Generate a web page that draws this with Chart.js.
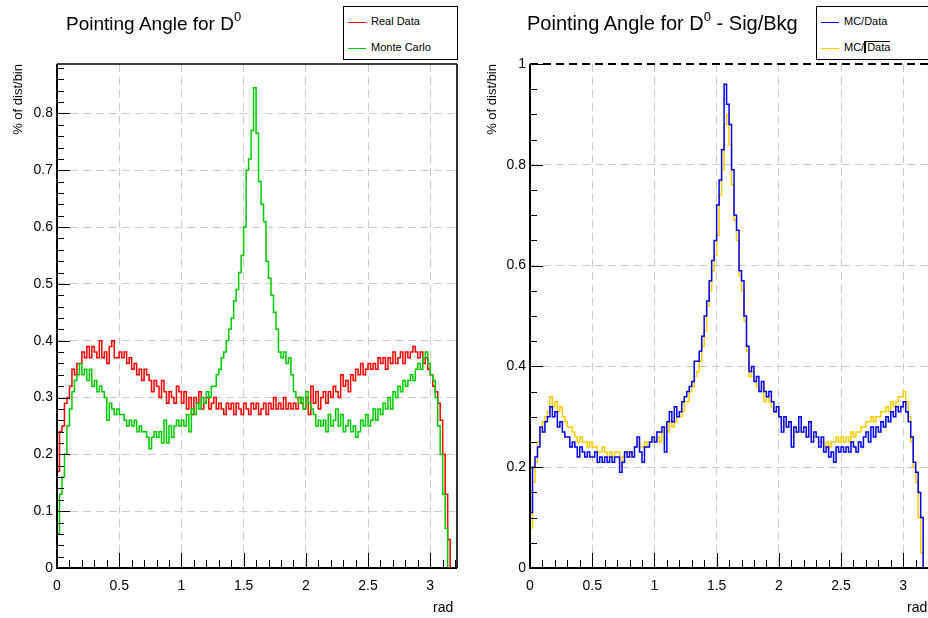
<!DOCTYPE html>
<html>
<head>
<meta charset="utf-8">
<title>Pointing Angle for D0</title>
<script src="https://cdn.jsdelivr.net/npm/chart.js@4.4.0/dist/chart.umd.min.js"></script>
<style>
  html, body { margin: 0; padding: 0; background: #fff; }
  body { width: 928px; height: 618px; overflow: hidden; position: relative; font-family: "Liberation Sans", Arial, sans-serif; color: #000; }
  canvas { position: absolute; top: 0; }
  #cLeft { left: 0; }
  #cRight { left: 464px; }
  .title { position: absolute; top: 13px; font-size: 19px; line-height: 22px; white-space: nowrap; }
  .title sup { font-size: 13px; position: relative; top: -9px; vertical-align: baseline; line-height: 0; }
  .legend { position: absolute; top: 6px; width: 113px; height: 52px; border: 1px solid #000; background: #fff; font-size: 11px; }
  .legend .row { position: absolute; left: 4px; height: 14px; line-height: 14px; white-space: nowrap; }
  .legend .swatch { display: inline-block; width: 18px; height: 0; border-top: 1.5px solid; vertical-align: middle; margin-right: 5px; }
  .sq { display: inline-block; border-left: 2px solid #000; border-top: 1px solid #000; padding-left: 1px; line-height: 11px; }
  .ytitle { position: absolute; width: 150px; height: 14px; line-height: 14px; font-size: 13px; text-align: right; white-space: nowrap; transform-origin: left top; transform: rotate(-90deg); }
  .xtitle { position: absolute; top: 599px; font-size: 14px; line-height: 16px; }
</style>
</head>
<body>
<canvas id="cLeft" width="464" height="618"></canvas>
<canvas id="cRight" width="470" height="618"></canvas>

<div class="title" style="left:66px">Pointing Angle for D<sup>0</sup></div>
<div class="title" style="left:527px; top:12px; font-size:20px">Pointing Angle for D<sup>0</sup> - Sig/Bkg</div>

<div class="legend" style="left:343px">
  <div class="row" style="top:7px"><span class="swatch" style="border-color:#ff0000"></span>Real Data</div>
  <div class="row" style="top:33px"><span class="swatch" style="border-color:#00cc00"></span>Monte Carlo</div>
</div>
<div class="legend" style="left:816px; width:140px">
  <div class="row" style="top:7px"><span class="swatch" style="border-color:#0000ff"></span>MC/Data</div>
  <div class="row" style="top:33px"><span class="swatch" style="border-color:#ffcc00"></span>MC/<span class="sq">Data</span></div>
</div>

<div class="ytitle" style="left:11px; top:214px">% of dist/bin</div>
<div class="ytitle" style="left:485px; top:214px">% of dist/bin</div>
<div class="xtitle" style="left:433px">rad</div>
<div class="xtitle" style="left:907px">rad</div>

<script>
// histogram binning: 160 bins of 0.02 rad starting at 0
const binWidth = 0.02;

const realData = [
  0.17, 0.24, 0.25, 0.29, 0.30, 0.32, 0.35, 0.34, 0.36, 0.36,
  0.38, 0.37, 0.39, 0.37, 0.39, 0.38, 0.37, 0.40, 0.37, 0.38,
  0.36, 0.39, 0.40, 0.37, 0.37, 0.38, 0.37, 0.38, 0.36, 0.37,
  0.35, 0.36, 0.34, 0.35, 0.33, 0.35, 0.34, 0.33, 0.31, 0.33,
  0.32, 0.30, 0.33, 0.31, 0.29, 0.31, 0.30, 0.29, 0.32, 0.31,
  0.29, 0.31, 0.28, 0.30, 0.27, 0.30, 0.29, 0.31, 0.28, 0.29,
  0.30, 0.28, 0.29, 0.30, 0.28, 0.29, 0.28, 0.27, 0.29, 0.28,
  0.29, 0.27, 0.29, 0.28, 0.27, 0.29, 0.28, 0.27, 0.29, 0.28,
  0.29, 0.27, 0.28, 0.29, 0.27, 0.29, 0.28, 0.30, 0.28, 0.29,
  0.28, 0.30, 0.28, 0.29, 0.28, 0.29, 0.28, 0.30, 0.29, 0.28,
  0.30, 0.27, 0.32, 0.29, 0.31, 0.28, 0.30, 0.31, 0.29, 0.31,
  0.30, 0.32, 0.31, 0.30, 0.34, 0.32, 0.33, 0.31, 0.34, 0.33,
  0.35, 0.34, 0.36, 0.34, 0.35, 0.36, 0.35, 0.36, 0.35, 0.37,
  0.36, 0.37, 0.35, 0.37, 0.36, 0.38, 0.36, 0.37, 0.38, 0.36,
  0.38, 0.37, 0.38, 0.39, 0.38, 0.37, 0.38, 0.36, 0.37, 0.35,
  0.34, 0.32, 0.31, 0.29, 0.26, 0.20, 0.13, 0.05, 0.00, 0.00
];

const monteCarlo = [
  0.06, 0.13, 0.16, 0.20, 0.25, 0.28, 0.31, 0.33, 0.34, 0.36,
  0.34, 0.35, 0.33, 0.35, 0.32, 0.33, 0.31, 0.32, 0.31, 0.30,
  0.26, 0.29, 0.28, 0.27, 0.28, 0.27, 0.27, 0.26, 0.25, 0.26,
  0.25, 0.26, 0.24, 0.25, 0.24, 0.24, 0.23, 0.21, 0.23, 0.24,
  0.23, 0.24, 0.22, 0.26, 0.22, 0.25, 0.23, 0.25, 0.26, 0.25,
  0.26, 0.25, 0.27, 0.24, 0.28, 0.27, 0.29, 0.28, 0.30, 0.29,
  0.31, 0.30, 0.32, 0.32, 0.34, 0.35, 0.37, 0.38, 0.40, 0.42,
  0.44, 0.47, 0.49, 0.52, 0.55, 0.60, 0.70, 0.72, 0.77, 0.845,
  0.765, 0.68, 0.64, 0.61, 0.54, 0.51, 0.48, 0.45, 0.42, 0.38,
  0.37, 0.38, 0.36, 0.37, 0.34, 0.31, 0.30, 0.29, 0.30, 0.28,
  0.31, 0.29, 0.28, 0.27, 0.25, 0.26, 0.25, 0.26, 0.24, 0.27,
  0.25, 0.26, 0.28, 0.25, 0.27, 0.24, 0.25, 0.26, 0.24, 0.25,
  0.23, 0.24, 0.26, 0.25, 0.27, 0.25, 0.26, 0.28, 0.26, 0.28,
  0.27, 0.29, 0.28, 0.30, 0.28, 0.31, 0.30, 0.32, 0.31, 0.33,
  0.32, 0.33, 0.34, 0.33, 0.35, 0.36, 0.35, 0.37, 0.38, 0.36,
  0.34, 0.33, 0.30, 0.25, 0.20, 0.13, 0.07, 0.00, 0.00, 0.00
];

const mcOverData = [
  0.11, 0.20, 0.22, 0.24, 0.28, 0.27, 0.29, 0.30, 0.32, 0.30,
  0.31, 0.28, 0.29, 0.27, 0.26, 0.26, 0.24, 0.25, 0.24, 0.22,
  0.24, 0.23, 0.22, 0.23, 0.22, 0.22, 0.23, 0.21, 0.22, 0.21,
  0.22, 0.21, 0.22, 0.21, 0.22, 0.22, 0.19, 0.21, 0.23, 0.22,
  0.23, 0.22, 0.24, 0.26, 0.23, 0.21, 0.24, 0.24, 0.25, 0.26,
  0.25, 0.27, 0.27, 0.28, 0.23, 0.29, 0.31, 0.29, 0.32, 0.30,
  0.31, 0.33, 0.34, 0.35, 0.36, 0.37, 0.41, 0.41, 0.43, 0.46,
  0.50, 0.53, 0.57, 0.61, 0.65, 0.72, 0.77, 0.83, 0.96, 0.92,
  0.88, 0.79, 0.70, 0.67, 0.59, 0.57, 0.50, 0.44, 0.39, 0.40,
  0.37, 0.38, 0.35, 0.37, 0.35, 0.34, 0.35, 0.33, 0.31, 0.32,
  0.30, 0.27, 0.30, 0.28, 0.29, 0.24, 0.28, 0.27, 0.30, 0.27,
  0.28, 0.26, 0.29, 0.25, 0.27, 0.26, 0.24, 0.26, 0.23, 0.24,
  0.22, 0.23, 0.21, 0.24, 0.23, 0.24, 0.23, 0.24, 0.23, 0.25,
  0.24, 0.23, 0.25, 0.24, 0.26, 0.27, 0.25, 0.28, 0.26, 0.28,
  0.27, 0.29, 0.28, 0.30, 0.29, 0.31, 0.30, 0.32, 0.31, 0.32,
  0.33, 0.31, 0.29, 0.26, 0.21, 0.19, 0.15, 0.10, 0.00, 0.00
];

const mcOverSqrtData = [
  0.08, 0.17, 0.21, 0.25, 0.27, 0.29, 0.30, 0.31, 0.34, 0.32,
  0.33, 0.31, 0.32, 0.30, 0.29, 0.28, 0.28, 0.27, 0.26, 0.25,
  0.26, 0.25, 0.25, 0.24, 0.25, 0.24, 0.24, 0.23, 0.23, 0.24,
  0.23, 0.22, 0.23, 0.22, 0.23, 0.23, 0.20, 0.22, 0.23, 0.23,
  0.22, 0.23, 0.24, 0.25, 0.24, 0.24, 0.25, 0.24, 0.25, 0.25,
  0.26, 0.26, 0.25, 0.27, 0.28, 0.27, 0.29, 0.28, 0.29, 0.30,
  0.30, 0.31, 0.33, 0.33, 0.35, 0.36, 0.38, 0.39, 0.41, 0.44,
  0.47, 0.52, 0.55, 0.59, 0.62, 0.66, 0.74, 0.79, 0.88, 0.90,
  0.84, 0.76, 0.69, 0.65, 0.58, 0.55, 0.49, 0.43, 0.38, 0.39,
  0.37, 0.36, 0.35, 0.36, 0.33, 0.34, 0.33, 0.32, 0.31, 0.31,
  0.30, 0.28, 0.29, 0.28, 0.28, 0.26, 0.27, 0.27, 0.28, 0.27,
  0.27, 0.26, 0.28, 0.26, 0.26, 0.26, 0.25, 0.25, 0.24, 0.25,
  0.24, 0.25, 0.25, 0.26, 0.25, 0.26, 0.25, 0.26, 0.25, 0.27,
  0.26, 0.27, 0.27, 0.28, 0.28, 0.29, 0.29, 0.30, 0.29, 0.30,
  0.30, 0.31, 0.31, 0.32, 0.31, 0.33, 0.32, 0.33, 0.34, 0.34,
  0.35, 0.33, 0.30, 0.25, 0.20, 0.17, 0.10, 0.03, 0.00, 0.00
];

// axis ranges (ROOT style frame: y max = 1.05 * peak on the left pad)
const xRange = [0, 3.215];
const yRangeLeft = [0, 0.887];
const yRangeRight = [0, 1];

// turn bin contents into step points: one point per low edge plus the closing edge
function histPoints(values) {
  const pts = values.map((v, i) => ({ x: i * binWidth, y: v }));
  pts.push({ x: values.length * binWidth, y: values[values.length - 1] });
  return pts;
}

function histDataset(values, color, order) {
  return {
    data: histPoints(values),
    borderColor: color,
    borderWidth: 1.5,
    pointRadius: 0,
    stepped: true,
    fill: false,
    order: order
  };
}

// frame + ticks drawn inside the pad, like ROOT does
const rootFrame = {
  id: 'rootFrame',
  afterDraw(chart, args, opts) {
    const { ctx, chartArea: a, scales: { x, y } } = chart;
    ctx.save();
    ctx.strokeStyle = '#000';
    ctx.lineWidth = 1;
    ctx.beginPath();
    for (let k = 0; k / 10 <= x.max + 1e-9; k++) {
      const px = Math.round(x.getPixelForValue(k / 10)) + 0.5;
      const len = k % 5 === 0 ? 15 : 8;
      ctx.moveTo(px, a.bottom);
      ctx.lineTo(px, a.bottom - len);
    }
    for (let k = 0; k * opts.yMinor <= y.max + 1e-9; k++) {
      const py = Math.round(y.getPixelForValue(k * opts.yMinor)) + 0.5;
      const len = k % opts.yMajorEvery === 0 ? 13 : 7;
      ctx.moveTo(a.left, py);
      ctx.lineTo(a.left + len, py);
    }
    ctx.stroke();

    // right edge
    ctx.strokeStyle = '#333';
    ctx.lineWidth = 2;
    ctx.beginPath();
    ctx.moveTo(a.right, a.top);
    ctx.lineTo(a.right, a.bottom);
    ctx.stroke();

    // top edge
    ctx.strokeStyle = '#000';
    ctx.lineWidth = opts.topDashed ? 2 : 1.5;
    if (opts.topDashed) ctx.setLineDash([8, 5]);
    ctx.beginPath();
    ctx.moveTo(a.left, a.top);
    ctx.lineTo(a.right, a.top);
    ctx.stroke();
    ctx.setLineDash([]);

    // left and bottom axes
    ctx.lineWidth = 2;
    ctx.beginPath();
    ctx.moveTo(a.left, a.top);
    ctx.lineTo(a.left, a.bottom);
    ctx.lineTo(a.right, a.bottom);
    ctx.stroke();
    ctx.restore();
  }
};

function fmt(v) {
  return String(Math.round(v * 10) / 10);
}

function makeChart(id, datasets, yRange, yStep, leftWidth, rightPad, frameOpts) {
  const tickFont = { family: 'Liberation Sans', size: 14 };
  return new Chart(document.getElementById(id), {
    type: 'line',
    data: { datasets: datasets },
    options: {
      responsive: false,
      animation: false,
      events: [],
      layout: { padding: { top: 64, right: rightPad, left: 0, bottom: 0 } },
      plugins: {
        legend: { display: false },
        tooltip: { enabled: false },
        rootFrame: frameOpts
      },
      scales: {
        x: {
          type: 'linear',
          min: xRange[0],
          max: xRange[1],
          ticks: { stepSize: 0.5, includeBounds: false, color: '#000', font: tickFont, padding: 10, maxRotation: 0, callback: fmt },
          grid: { color: '#cccccc', lineWidth: 1, drawTicks: false },
          border: { display: false, dash: [8, 5] },
          afterFit(scale) { scale.height = 50; }
        },
        y: {
          type: 'linear',
          min: yRange[0],
          max: yRange[1],
          ticks: { stepSize: yStep, includeBounds: false, color: '#000', font: tickFont, padding: 4, callback: fmt },
          grid: { color: '#cccccc', lineWidth: 1, drawTicks: false },
          border: { display: false, dash: [8, 5] },
          afterFit(scale) { scale.width = leftWidth; }
        }
      }
    },
    plugins: [rootFrame]
  });
}

makeChart('cLeft', [
  histDataset(monteCarlo, '#00cc00', 0),
  histDataset(realData, '#ff0000', 1)
], yRangeLeft, 0.1, 57, 7, { yMinor: 0.02, yMajorEvery: 5, topDashed: false });

makeChart('cRight', [
  histDataset(mcOverData, '#0000ff', 0),
  histDataset(mcOverSqrtData, '#ffcc00', 1)
], yRangeRight, 0.2, 66, 4, { yMinor: 0.05, yMajorEvery: 4, topDashed: true });
</script>
</body>
</html>
